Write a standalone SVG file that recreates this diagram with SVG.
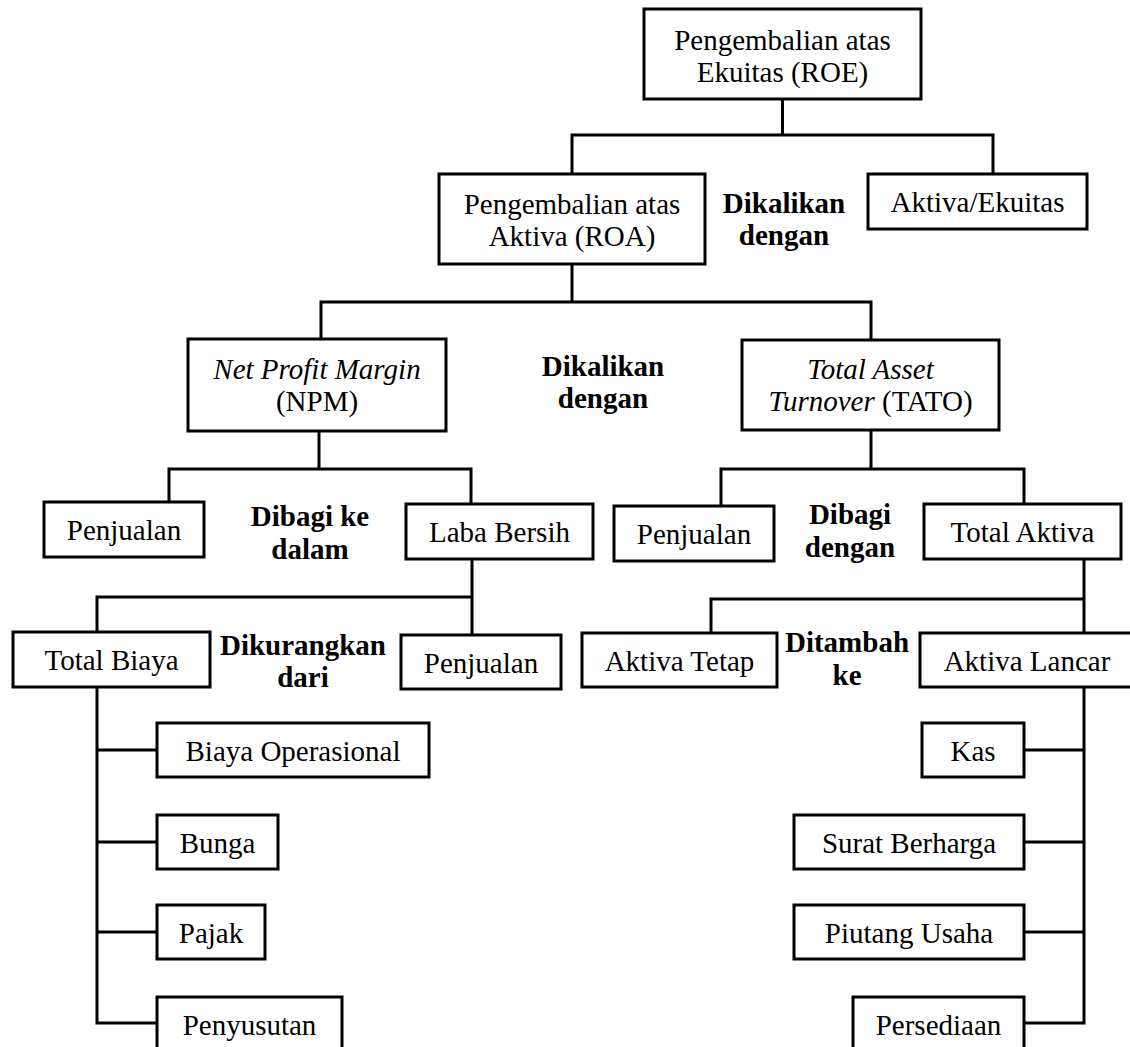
<svg xmlns="http://www.w3.org/2000/svg" width="1130" height="1047" viewBox="0 0 1130 1047">
<style>
.box{fill:#fff;stroke:#000;stroke-width:3}
.ln{fill:none;stroke:#000;stroke-width:3;stroke-linejoin:miter}
text{font-family:"Liberation Serif","Times New Roman",serif;font-size:29px;fill:#000;text-anchor:middle}
.b{font-weight:bold}
.i{font-style:italic}
</style>
<rect width="1130" height="1047" fill="#fff"/>
<g id="connectors">
<path class="ln" d="M782.5 99 V135"/>
<path class="ln" d="M572 174 V135 H993 V174"/>
<path class="ln" d="M572 264 V302"/>
<path class="ln" d="M321 339 V302 H871 V340"/>
<path class="ln" d="M319 431 V469"/>
<path class="ln" d="M169 502 V469 H471 V504"/>
<path class="ln" d="M871 430 V469"/>
<path class="ln" d="M721 506 V469 H1024 V504"/>
<path class="ln" d="M472 559 V635"/>
<path class="ln" d="M97 632 V597 H472"/>
<path class="ln" d="M1084 559 V633"/>
<path class="ln" d="M711 633 V599 H1084"/>
<path class="ln" d="M97 687 V1023 H157"/>
<path class="ln" d="M97 750 H157 M97 842 H157 M97 932 H157"/>
<path class="ln" d="M1084 687 V1023 H1024"/>
<path class="ln" d="M1084 750 H1024 M1084 842 H1024 M1084 932 H1024"/>
</g>
<g id="roe"><rect class="box" x="644" y="9" width="277" height="90"/><text x="782.5" y="50">Pengembalian atas</text><text x="782.5" y="82">Ekuitas (ROE)</text></g>
<g id="roa"><rect class="box" x="439" y="174" width="266" height="90"/><text x="572" y="214">Pengembalian atas</text><text x="572" y="246">Aktiva (ROA)</text></g>
<g id="lbl-dikalikan-1"><text class="b" x="784" y="213">Dikalikan</text><text class="b" x="784" y="245">dengan</text></g>
<g id="aktiva-ekuitas"><rect class="box" x="868" y="174" width="219" height="55"/><text x="977.5" y="212">Aktiva/Ekuitas</text></g>
<g id="npm"><rect class="box" x="188" y="339" width="258" height="92"/><text x="317" y="379" class="i">Net Profit Margin</text><text x="317" y="411">(NPM)</text></g>
<g id="lbl-dikalikan-2"><text class="b" x="603" y="376">Dikalikan</text><text class="b" x="603" y="408">dengan</text></g>
<g id="tato"><rect class="box" x="742" y="340" width="257" height="90"/><text x="870.5" y="379" class="i">Total Asset</text><text x="870.5" y="411"><tspan class="i">Turnover</tspan> (TATO)</text></g>
<g id="penjualan-1"><rect class="box" x="44" y="502" width="160" height="55"/><text x="124" y="540">Penjualan</text></g>
<g id="lbl-dibagi-ke"><text class="b" x="310" y="526">Dibagi ke</text><text class="b" x="310" y="559">dalam</text></g>
<g id="laba-bersih"><rect class="box" x="406" y="504" width="187" height="55"/><text x="499.5" y="542">Laba Bersih</text></g>
<g id="penjualan-3"><rect class="box" x="614" y="506" width="160" height="55"/><text x="694" y="544">Penjualan</text></g>
<g id="lbl-dibagi-dengan"><text class="b" x="850" y="524">Dibagi</text><text class="b" x="850" y="557">dengan</text></g>
<g id="total-aktiva"><rect class="box" x="924" y="504" width="197" height="55"/><text x="1022.5" y="542">Total Aktiva</text></g>
<g id="total-biaya"><rect class="box" x="13" y="632" width="197" height="55"/><text x="111.5" y="670">Total Biaya</text></g>
<g id="lbl-dikurangkan"><text class="b" x="303" y="655">Dikurangkan</text><text class="b" x="303" y="687">dari</text></g>
<g id="penjualan-2"><rect class="box" x="401" y="635" width="160" height="54"/><text x="481" y="673">Penjualan</text></g>
<g id="aktiva-tetap"><rect class="box" x="582" y="633" width="195" height="54"/><text x="679.5" y="671">Aktiva Tetap</text></g>
<g id="lbl-ditambah"><text class="b" x="847" y="652">Ditambah</text><text class="b" x="847" y="685">ke</text></g>
<g id="aktiva-lancar"><rect class="box" x="920" y="633" width="220" height="54"/><text x="1027" y="671">Aktiva Lancar</text></g>
<g id="biaya-operasional"><rect class="box" x="157" y="723" width="272" height="54"/><text x="293" y="761">Biaya Operasional</text></g>
<g id="bunga"><rect class="box" x="157" y="815" width="121" height="54"/><text x="217.5" y="853">Bunga</text></g>
<g id="pajak"><rect class="box" x="157" y="905" width="108" height="54"/><text x="211" y="943">Pajak</text></g>
<g id="penyusutan"><rect class="box" x="157" y="997" width="185" height="60"/><text x="249.5" y="1035">Penyusutan</text></g>
<g id="kas"><rect class="box" x="922" y="723" width="102" height="54"/><text x="973" y="761">Kas</text></g>
<g id="surat-berharga"><rect class="box" x="794" y="815" width="230" height="54"/><text x="909" y="853">Surat Berharga</text></g>
<g id="piutang-usaha"><rect class="box" x="794" y="905" width="230" height="54"/><text x="909" y="943">Piutang Usaha</text></g>
<g id="persediaan"><rect class="box" x="853" y="997" width="171" height="60"/><text x="938.5" y="1035">Persediaan</text></g>
</svg>
